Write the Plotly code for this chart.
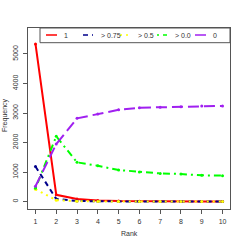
import plotly.graph_objects as go

ranks = [1, 2, 3, 4, 5, 6, 7, 8, 9, 10]
s_one = [5340, 230, 90, 40, 20, 10, 8, 5, 5, 3]
s_075 = [1190, 90, 20, 8, 4, 2, 2, 1, 1, 1]
s_05 = [420, 50, 10, 5, 3, 2, 1, 1, 1, 1]
s_00 = [450, 2210, 1330, 1215, 1070, 1000, 955, 935, 890, 880]
s_zero = [520, 1950, 2820, 2970, 3110, 3180, 3200, 3210, 3240, 3240]
series_names = ["1", "> 0.75", "> 0.5", "> 0.0", "0"]
y_ticks = [0, 1000, 2000, 3000, 4000, 5000]

colors = ["#FF0000", "#00008B", "#FFFF00", "#00FF00", "#A020F0"]
dashes = ["solid", "5px,4px", "2px,4px", "2px,4px,7px,4px", "11px,5px"]
data = [s_one, s_075, s_05, s_00, s_zero]

fig = go.Figure()
for name, ys, c, d in zip(series_names, data, colors, dashes):
    fig.add_trace(go.Scatter(x=ranks, y=ys, mode="lines+markers", name=name,
                             line=dict(color=c, width=2, dash=d),
                             marker=dict(color=c, size=3), showlegend=False,
                             hoverinfo="skip"))

W, H = 245, 245
L, R, T, B = 28, 15, 28, 36
X0, X1 = L, W - R
Y0, Y1 = T, H - B

def px_x(px):
    return (px - X0) / (X1 - X0)

def px_y(py):
    return (Y1 - py) / (Y1 - Y0)

# manual legend
shapes = [dict(type="rect", xref="paper", yref="paper",
               x0=px_x(40), x1=1.0, y0=px_y(42.7), y1=1.0,
               line=dict(color="#555555", width=1))]
annots = []
sample_x = [(46, 57), (83, 93), (120, 130), (157, 167), (195, 206)]
text_x = [62, 99, 136, 173, 211]
ly = px_y(35)
for (a, b), tx, name, c, d in zip(sample_x, text_x, series_names, colors, dashes):
    shapes.append(dict(type="line", xref="paper", yref="paper",
                       x0=px_x(a), x1=px_x(b), y0=ly, y1=ly,
                       line=dict(color=c, width=1.5, dash=d)))
    annots.append(dict(xref="paper", yref="paper", x=px_x(tx), y=ly, text=name,
                       showarrow=False, xanchor="left", yanchor="middle",
                       font=dict(size=7, color="#333333")))

# axis titles
annots.append(dict(xref="paper", yref="paper", x=px_x(5), y=px_y(115),
                   text="Frequency", textangle=-90, showarrow=False,
                   xanchor="center", yanchor="middle",
                   font=dict(size=7, color="#333333")))
annots.append(dict(xref="paper", yref="paper", x=px_x(129), y=px_y(233),
                   text="Rank", showarrow=False,
                   xanchor="center", yanchor="middle",
                   font=dict(size=7, color="#333333")))

fig.update_layout(
    width=W, height=H, margin=dict(l=L, r=R, t=T, b=B),
    plot_bgcolor="white", paper_bgcolor="white", hovermode=False,
    font=dict(family="Liberation Sans, Arial, sans-serif", size=7, color="#333333"),
    shapes=shapes, annotations=annots,
    xaxis=dict(range=[0.64, 10.36], tickvals=ranks, ticks="outside", ticklen=4,
               ticklabelstandoff=2, automargin=False,
               showline=True, mirror=True, linecolor="#555555", linewidth=1,
               tickcolor="#555555", showgrid=False, zeroline=False),
    yaxis=dict(range=[-250, 5880], tickvals=y_ticks, ticks="outside", ticklen=4,
               ticklabelstandoff=2, automargin=False,
               tickangle=-90, showline=True, mirror=True, linecolor="#555555",
               linewidth=1, tickcolor="#555555", showgrid=False, zeroline=False),
)
fig.write_html("out.html", config={"displayModeBar": False, "staticPlot": True},
               post_script="document.body.style.margin='0';document.body.style.overflow='hidden';")
